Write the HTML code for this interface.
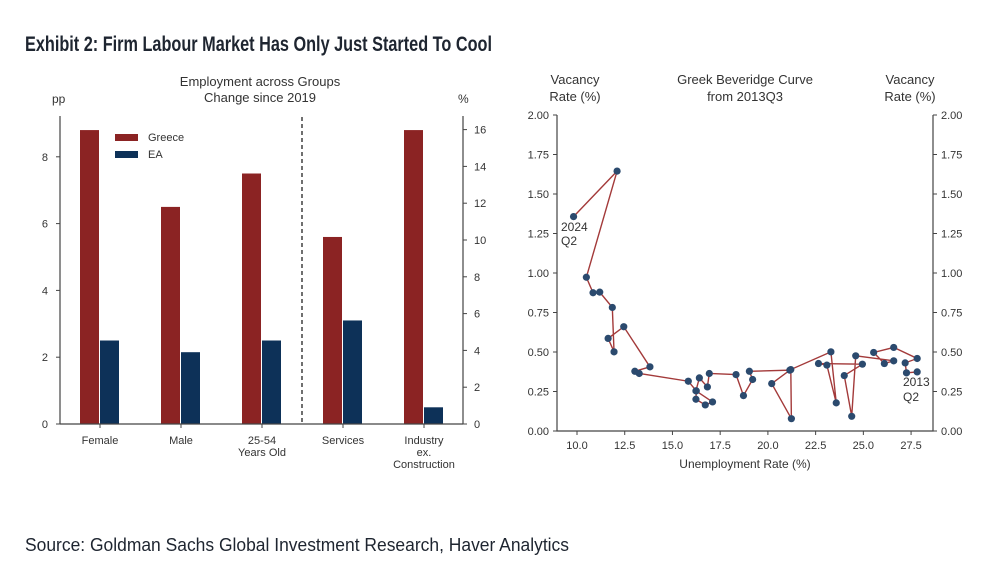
<!DOCTYPE html>
<html><head><meta charset="utf-8"><style>
body{margin:0;background:#fff;}
svg{display:block;font-family:"Liberation Sans",Arial,sans-serif;}
</style></head><body>
<svg id="root" width="1006" height="587" viewBox="0 0 1006 587" xmlns="http://www.w3.org/2000/svg">
<text x="25" y="51" font-family="'Liberation Sans Narrow','Liberation Sans',sans-serif" font-weight="bold" font-size="21" fill="#1e2530" textLength="467" lengthAdjust="spacingAndGlyphs">Exhibit 2: Firm Labour Market Has Only Just Started To Cool</text>
<text x="25" y="551" font-family="'Liberation Sans Narrow','Liberation Sans',sans-serif" font-size="18" fill="#1e2530" textLength="544" lengthAdjust="spacingAndGlyphs">Source: Goldman Sachs Global Investment Research, Haver Analytics</text>
<g id="left"></g>
<g id="right"></g>
</svg>
<script>
const categories=[["Female"],["Male"],["25-54","Years Old"],["Services"],["Industry","ex.","Construction"]];
const greece=[8.8,6.5,7.5,5.6,8.8];
const ea=[2.5,2.15,2.5,3.1,0.5];
const leftTicks=[0,2,4,6,8];
const rightTicks=[0,2,4,6,8,10,12,14,16];
const unemp=[27.82,27.26,27.19,27.82,26.59,25.54,26.10,26.59,24.60,24.39,24.00,24.95,22.65,23.09,23.58,23.30,21.20,21.23,20.20,21.15,19.03,19.20,18.72,18.33,16.93,16.83,16.41,16.23,17.10,16.72,16.23,16.25,15.83,13.26,13.03,13.82,12.45,11.63,11.94,11.85,11.19,10.84,10.49,12.10,9.82];
const vac=[0.374,0.368,0.431,0.459,0.529,0.497,0.427,0.444,0.476,0.093,0.351,0.423,0.427,0.417,0.178,0.501,0.389,0.078,0.300,0.385,0.378,0.326,0.224,0.357,0.364,0.279,0.336,0.254,0.184,0.165,0.201,0.254,0.315,0.364,0.378,0.406,0.660,0.586,0.501,0.782,0.879,0.875,0.973,1.645,1.357];
const xTicks=[10.0,12.5,15.0,17.5,20.0,22.5,25.0,27.5];
const yTicks=[0,0.25,0.5,0.75,1.0,1.25,1.5,1.75,2.0];
const NS="http://www.w3.org/2000/svg";
function mk(p,t,a,txt){const e=document.createElementNS(NS,t);for(const k in a)e.setAttribute(k,a[k]);if(txt!==undefined)e.textContent=txt;p.appendChild(e);return e;}
const L=document.getElementById('left'),R=document.getElementById('right');
const TC="#333",AX="#444";
// left chart
const y0=424,ppx=33.4;const yL=v=>y0-v*ppx;const yR=v=>y0-v*18.4;
const cx=i=>100+i*81;
let t;
t=mk(L,'text',{x:260,y:86,'text-anchor':'middle','font-size':13,fill:TC},'Employment across Groups');

t=mk(L,'text',{x:260,y:102,'text-anchor':'middle','font-size':13,fill:TC},'Change since 2019');

t=mk(L,'text',{x:52,y:103,'font-size':12,fill:TC},'pp');

t=mk(L,'text',{x:458,y:103,'font-size':12,fill:TC},'%');

for(let i=0;i<categories.length;i++){
 let b=mk(L,'rect',{x:cx(i)-20,y:yL(greece[i]),width:19,height:y0-yL(greece[i]),fill:'#8b2323'});
 
 b=mk(L,'rect',{x:cx(i),y:yL(ea[i]),width:19,height:y0-yL(ea[i]),fill:'#0d3158'});
 
 categories[i].forEach((s,j)=>{const c=mk(L,'text',{x:cx(i),y:444+j*12,'text-anchor':'middle','font-size':11,fill:TC},s);
 });
 mk(L,'line',{x1:cx(i),x2:cx(i),y1:y0,y2:y0+4,stroke:AX});
}
let a=mk(L,'line',{x1:60,x2:60,y1:116,y2:y0,stroke:AX,'stroke-width':1.2});

a=mk(L,'line',{x1:463,x2:463,y1:116,y2:y0,stroke:AX,'stroke-width':1.2});

a=mk(L,'line',{x1:60,x2:463,y1:y0,y2:y0,stroke:AX,'stroke-width':1.2});

a=mk(L,'line',{x1:302,x2:302,y1:117,y2:y0,stroke:'#222','stroke-width':1.3,'stroke-dasharray':'4,3'});

leftTicks.forEach(v=>{mk(L,'line',{x1:56,x2:60,y1:yL(v),y2:yL(v),stroke:AX});
 const e=mk(L,'text',{x:48,y:yL(v)+4,'text-anchor':'end','font-size':11,fill:TC},v);
 });
rightTicks.forEach(v=>{mk(L,'line',{x1:463,x2:467,y1:yR(v),y2:yR(v),stroke:AX});
 const e=mk(L,'text',{x:474,y:yR(v)+4,'font-size':11,fill:TC},v);
 });
let lg=mk(L,'rect',{x:115,y:134,width:23,height:7,fill:'#8b2323'});

lg=mk(L,'text',{x:148,y:141,'font-size':11,fill:TC},'Greece');

lg=mk(L,'rect',{x:115,y:151,width:23,height:7,fill:'#0d3158'});

lg=mk(L,'text',{x:148,y:158,'font-size':11,fill:TC},'EA');

// right chart
const X=v=>577+(v-10)*19.09, Y=v=>431-v*158;
[[575,84,'Vacancy'],[575,101,'Rate (%)'],[745,84,'Greek Beveridge Curve'],[745,101,'from 2013Q3'],[910,84,'Vacancy'],[910,101,'Rate (%)']].forEach(d=>{
 const e=mk(R,'text',{x:d[0],y:d[1],'text-anchor':'middle','font-size':13,fill:TC},d[2]);
 });
a=mk(R,'polyline',{points:'557,115 557,431 933,431 933,115',fill:'none',stroke:AX,'stroke-width':1.2});

mk(R,'line',{x1:553,x2:557,y1:115,y2:115,stroke:AX});mk(R,'line',{x1:933,x2:937,y1:115,y2:115,stroke:AX});
yTicks.forEach(v=>{mk(R,'line',{x1:553,x2:557,y1:Y(v),y2:Y(v),stroke:AX});mk(R,'line',{x1:933,x2:937,y1:Y(v),y2:Y(v),stroke:AX});
 let e=mk(R,'text',{x:549,y:Y(v)+4,'text-anchor':'end','font-size':11,fill:TC},v.toFixed(2));
 
 e=mk(R,'text',{x:941,y:Y(v)+4,'font-size':11,fill:TC},v.toFixed(2));
 });
xTicks.forEach(v=>{mk(R,'line',{x1:X(v),x2:X(v),y1:431,y2:435,stroke:AX});
 const e=mk(R,'text',{x:X(v),y:449,'text-anchor':'middle','font-size':11,fill:TC},v.toFixed(1));
 });
t=mk(R,'text',{x:745,y:468,'text-anchor':'middle','font-size':12,fill:TC},'Unemployment Rate (%)');

const pl=mk(R,'polyline',{points:unemp.map((u,i)=>X(u)+','+Y(vac[i])).join(' '),fill:'none',stroke:'#a33a3a','stroke-width':1.4});

unemp.forEach((u,i)=>{const c=mk(R,'circle',{cx:X(u),cy:Y(vac[i]),r:3.6,fill:'#2b4a6e'});
 });
[[561,231,'2024'],[561,245,'Q2'],[903,386,'2013'],[903,401,'Q2']].forEach(d=>{
 const e=mk(R,'text',{x:d[0],y:d[1],'font-size':12,fill:TC},d[2]);
 });
</script>
</body></html>
